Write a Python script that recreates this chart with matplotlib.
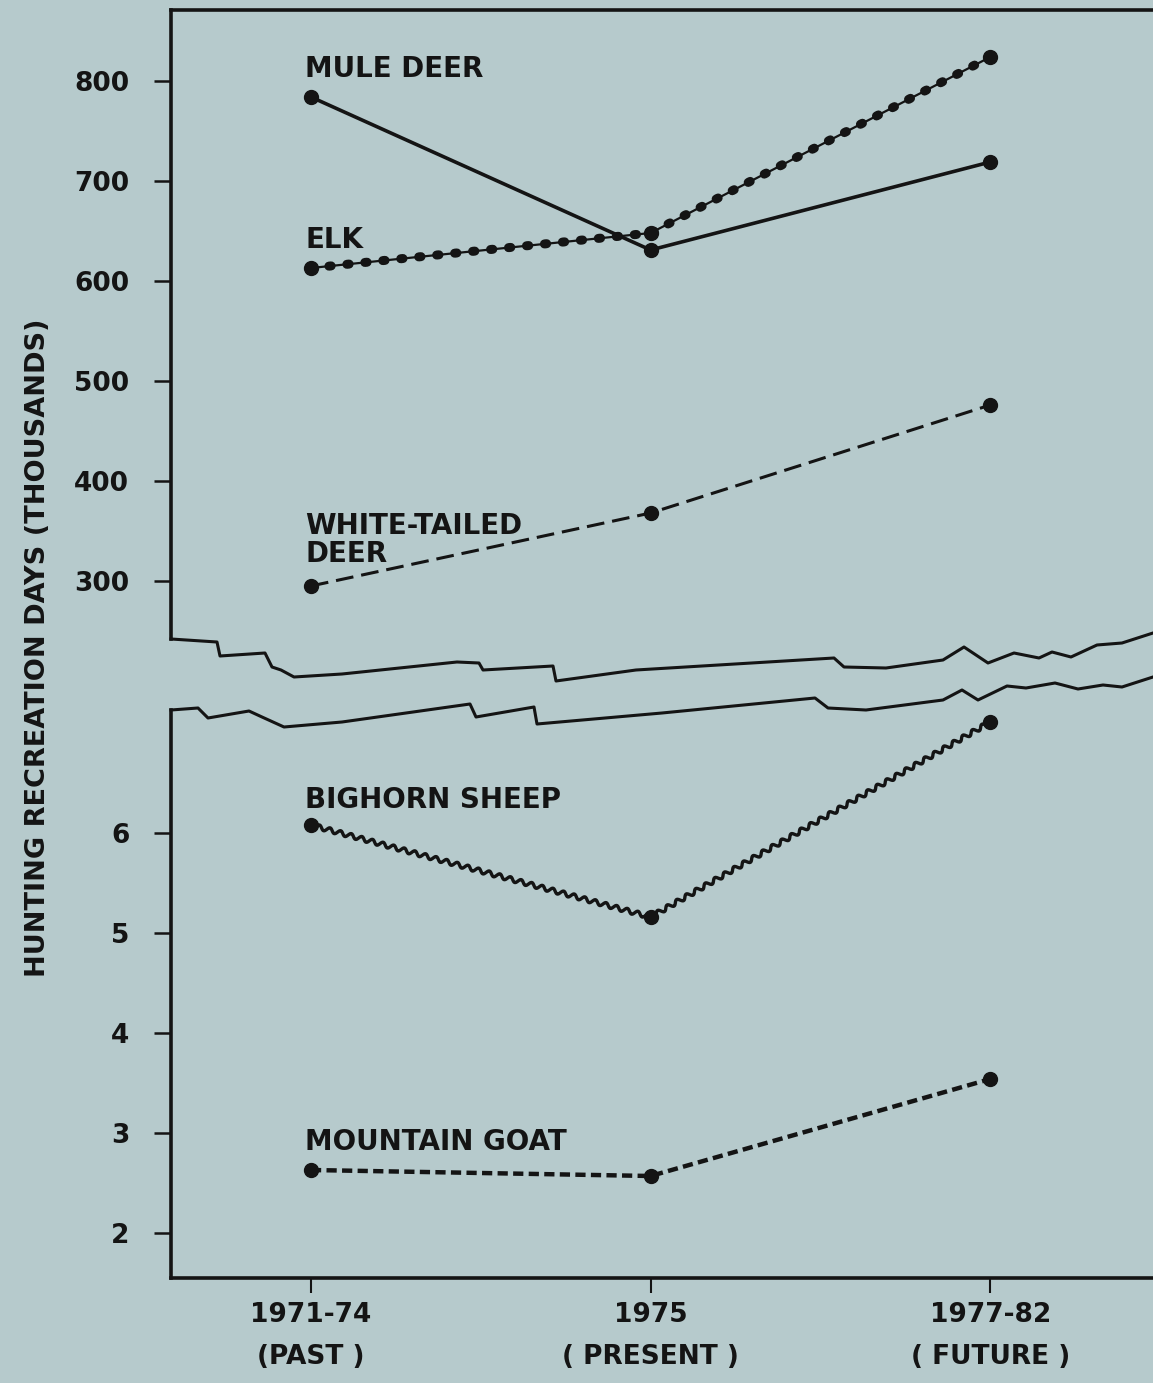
import numpy as np
import matplotlib
matplotlib.use("Agg")
import matplotlib.pyplot as plt

# periods on the x axis
periods = ["1971-74\n(PAST )", "1975\n( PRESENT )", "1977-82\n( FUTURE )"]

# hunting recreation days, thousands
mule_deer = [784, 631, 719]
elk = [613, 648, 824]
white_tailed_deer = [295, 368, 476]
bighorn_sheep = [6.08, 5.16, 7.11]
mountain_goat = [2.63, 2.57, 3.54]

top_ticks = [300, 400, 500, 600, 700, 800]
bottom_ticks = [2, 3, 4, 5, 6]

bg = "#b6cacc"
ink = "#141414"
W, H = 1153, 1383

plt.rcParams["font.family"] = "DejaVu Sans"
plt.rcParams["font.weight"] = "bold"

fig = plt.figure(figsize=(W / 100, H / 100), dpi=100, facecolor=bg)


def px(x0, y0, x1, y1):
    # pixel box -> figure fraction rect
    return [x0 / W, 1 - y1 / H, (x1 - x0) / W, (y1 - y0) / H]


ax_top = fig.add_axes(px(171, 10, 1153, 639), facecolor=bg)
ax_bot = fig.add_axes(px(171, 710, 1153, 1278), facecolor=bg)

x = np.arange(len(periods))

for ax in (ax_top, ax_bot):
    ax.set_xlim(-0.412, 2.479)
    ax.spines["right"].set_visible(False)
    for s in ax.spines.values():
        s.set_linewidth(2.6)
        s.set_color(ink)
    ax.tick_params(axis="y", direction="out", length=12, width=1.8, pad=18,
                   labelsize=19, colors=ink)

ax_top.spines["bottom"].set_visible(False)
ax_bot.spines["top"].set_visible(False)
ax_top.set_xticks([])
ax_top.set_ylim(242, 871)
ax_top.set_yticks(top_ticks)
ax_bot.set_ylim(1.55, 7.23)
ax_bot.set_yticks(bottom_ticks)
ax_bot.set_xticks(x)
ax_bot.set_xticklabels(periods, linespacing=1.8)
ax_bot.tick_params(axis="x", direction="out", length=11, width=1.5, pad=6,
                   labelsize=19, colors=ink)

mk = dict(marker="o", markersize=10, color=ink, linestyle="none", zorder=5)

# mule deer - solid
ax_top.plot(x, mule_deer, color=ink, lw=2.6)
ax_top.plot(x, mule_deer, **mk)

# elk - beaded line
ax_top.plot(x, elk, color=ink, lw=1.6)
ax_top.plot(x, elk, color=ink, lw=6.5, linestyle=(0, (0.25, 1.75)),
            dash_capstyle="round")
ax_top.plot(x, elk, **mk)

# white-tailed deer - long dashes
ax_top.plot(x, white_tailed_deer, color=ink, lw=2.2,
            linestyle=(0, (5.8, 2.6)), dash_capstyle="butt")
ax_top.plot(x, white_tailed_deer, **mk)

# bighorn sheep - wavy line
wave, = ax_bot.plot(x, bighorn_sheep, color=ink, lw=2.4)
wave.set_sketch_params(2.3, 11, 1)
ax_bot.plot(x, bighorn_sheep, **mk)

# mountain goat - short heavy dashes
ax_bot.plot(x, mountain_goat, color=ink, lw=3.2,
            linestyle=(0, (2.3, 1.2)), dash_capstyle="butt")
ax_bot.plot(x, mountain_goat, **mk)

lab = dict(textcoords="offset points", ha="left", va="center",
           fontsize=20, color=ink, linespacing=1.0)
ax_top.annotate("MULE DEER", (x[0], mule_deer[0]), xytext=(-4, 20), **lab)
ax_top.annotate("ELK", (x[0], elk[0]), xytext=(-4, 20), **lab)
ax_top.annotate("WHITE-TAILED\nDEER", (x[0], white_tailed_deer[0]),
                xytext=(-4, 33), **lab)
ax_bot.annotate("BIGHORN SHEEP", (x[0], bighorn_sheep[0]), xytext=(-4, 18), **lab)
ax_bot.annotate("MOUNTAIN GOAT", (x[0], mountain_goat[0]), xytext=(-4, 20), **lab)

fig.text(38 / W, 1 - 648 / H, "HUNTING RECREATION DAYS (THOUSANDS)",
         rotation=90, ha="center", va="center", fontsize=19.5, color=ink)

# axis break lines (drawn freehand in the original)
brk_top = [(171, 639), (217, 642), (220, 656), (265, 653), (272, 667),
           (281, 670), (294, 677), (342, 674), (457, 662), (479, 663),
           (483, 670), (553, 666), (556, 681), (636, 670), (834, 658),
           (844, 667), (886, 668), (943, 660), (964, 647), (988, 663),
           (1014, 653), (1039, 658), (1052, 652), (1071, 657), (1097, 645),
           (1122, 643), (1153, 633)]
brk_bot = [(171, 710), (198, 708), (208, 718), (249, 711), (262, 717),
           (284, 727), (342, 722), (470, 704), (476, 717), (534, 707),
           (537, 724), (662, 713), (815, 698), (828, 708), (866, 710),
           (943, 700), (962, 690), (978, 700), (1007, 686), (1026, 688),
           (1055, 683), (1078, 689), (1103, 685), (1122, 687), (1153, 677)]
for pts in (brk_top, brk_bot):
    bx = [p[0] / W for p in pts]
    by = [1 - p[1] / H for p in pts]
    fig.add_artist(plt.Line2D(bx, by, transform=fig.transFigure, color=ink,
                              lw=2.2, solid_joinstyle="round"))

fig.savefig("out.png", dpi=100, facecolor=bg)
